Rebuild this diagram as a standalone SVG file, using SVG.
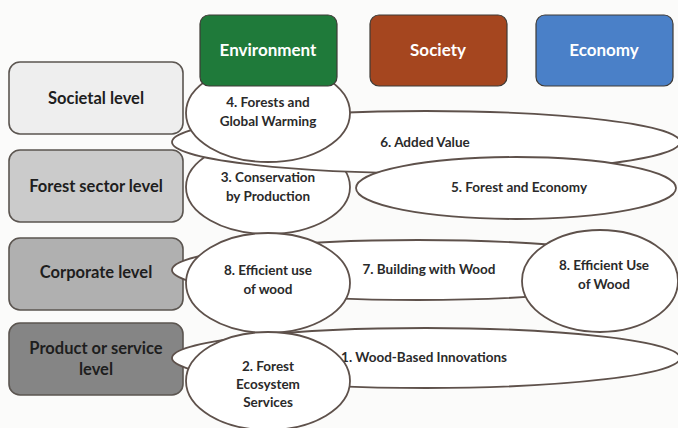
<svg xmlns="http://www.w3.org/2000/svg" width="678" height="428" viewBox="0 0 678 428">
<style>
.lvl{stroke:#5b5550;stroke-width:1.6}
.hdr{stroke:#3e3a36;stroke-width:1.2}
.ell{fill:#ffffff;stroke:#5e514b;stroke-width:1.8}
.lt{font-family:Lato,"Open Sans","Liberation Sans",sans-serif;font-weight:bold;font-size:16.5px;fill:#1e1e1e;text-anchor:middle}
.ht{font-family:Lato,"Open Sans","Liberation Sans",sans-serif;font-weight:bold;font-size:17px;fill:#ffffff;text-anchor:middle}
.et{font-family:Lato,"Open Sans","Liberation Sans",sans-serif;font-weight:bold;font-size:13.5px;fill:#2a2a2a;text-anchor:middle}
</style>
<rect x="0" y="0" width="678" height="428" fill="#fbfbfa"/>
<g id="levels">
<g id="societal"><rect class="lvl" x="9" y="62" width="174" height="72" rx="11" fill="#eeeeee"/><text class="lt" x="96" y="104">Societal level</text></g>
<g id="forest-sector"><rect class="lvl" x="9" y="150" width="174" height="72" rx="11" fill="#cbcbcb"/><text class="lt" x="96" y="192">Forest sector level</text></g>
<g id="corporate"><rect class="lvl" x="9" y="238" width="174" height="72" rx="11" fill="#b0b0b0"/><text class="lt" x="96" y="278">Corporate level</text></g>
<g id="product"><rect class="lvl" x="9" y="323" width="174" height="72" rx="11" fill="#858585"/><text class="lt" x="96" y="354">Product or service</text><text class="lt" x="96" y="375">level</text></g>
</g>
<g id="connectors">
<g id="e3"><ellipse class="ell" cx="268" cy="187" rx="82" ry="47"/><text class="et" x="268" y="182">3. Conservation</text><text class="et" x="268" y="201">by Production</text></g>
<g id="e6"><ellipse class="ell" cx="426" cy="142" rx="254" ry="31"/><text class="et" x="425" y="147">6. Added Value</text></g>
<g id="e4"><ellipse class="ell" cx="268" cy="113" rx="82" ry="49"/><text class="et" x="268" y="107">4. Forests and</text><text class="et" x="268" y="126">Global Warming</text></g>
<g id="e5"><ellipse class="ell" cx="516" cy="188" rx="160" ry="31"/><text class="et" x="519" y="192">5. Forest and Economy</text></g>
<g id="e7"><ellipse class="ell" cx="418" cy="270" rx="246" ry="30"/><text class="et" x="429" y="274">7. Building with Wood</text></g>
<g id="e8a"><ellipse class="ell" cx="268" cy="283" rx="82" ry="50"/><text class="et" x="268" y="275">8. Efficient use</text><text class="et" x="268" y="294">of wood</text></g>
<g id="e8b"><ellipse class="ell" cx="600" cy="281" rx="78" ry="51"/><text class="et" x="604" y="270">8. Efficient Use</text><text class="et" x="604" y="289">of Wood</text></g>
<g id="e1"><ellipse class="ell" cx="426" cy="358" rx="254" ry="30"/><text class="et" x="424" y="362">1. Wood-Based Innovations</text></g>
<g id="e2"><ellipse class="ell" cx="268" cy="381" rx="82" ry="49"/><text class="et" x="268" y="371">2. Forest</text><text class="et" x="268" y="389">Ecosystem</text><text class="et" x="268" y="407">Services</text></g>
</g>
<g id="headers">
<g id="environment"><rect class="hdr" x="200" y="15" width="137" height="71" rx="9" fill="#1f7a3a"/><text class="ht" x="268" y="56">Environment</text></g>
<g id="society"><rect class="hdr" x="370" y="15" width="137" height="71" rx="9" fill="#a5461f"/><text class="ht" x="438" y="56">Society</text></g>
<g id="economy"><rect class="hdr" x="536" y="15" width="137" height="71" rx="9" fill="#4a80c8"/><text class="ht" x="604" y="56">Economy</text></g>
</g>
</svg>
